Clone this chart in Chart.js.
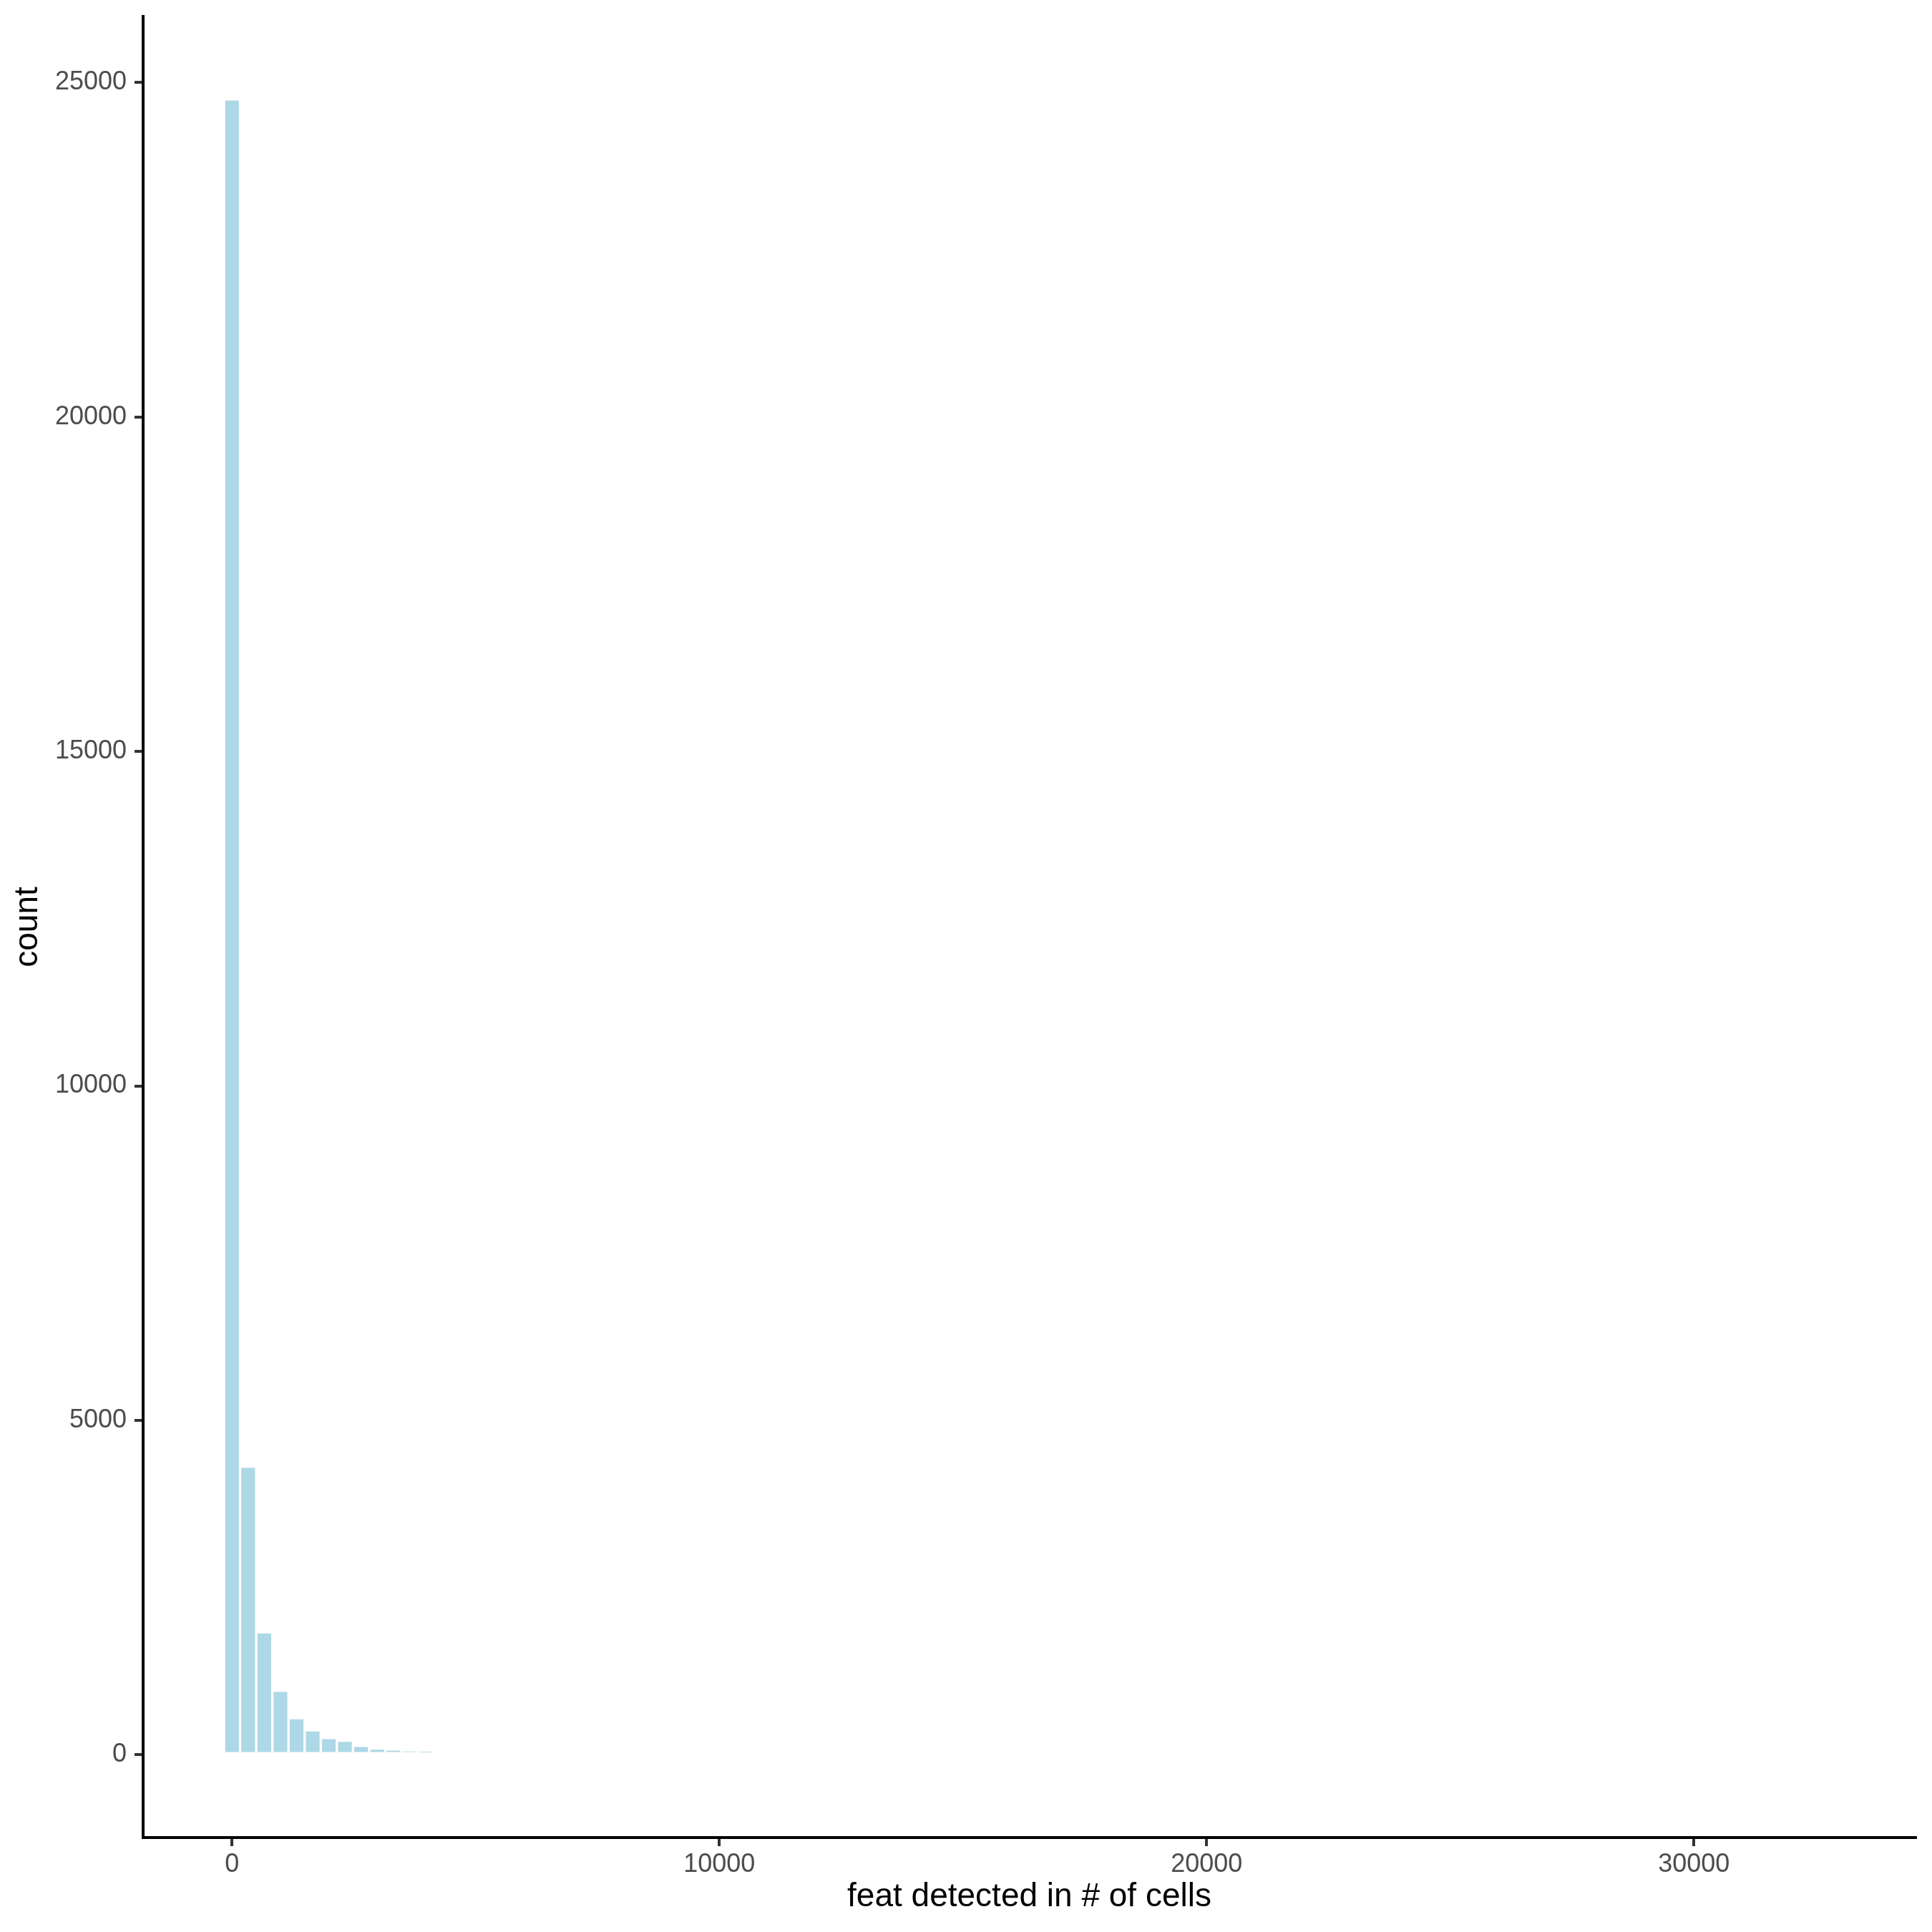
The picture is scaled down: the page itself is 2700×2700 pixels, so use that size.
<!DOCTYPE html>
<html>
<head>
<meta charset="utf-8">
<script src="https://cdn.jsdelivr.net/npm/chart.js@4"></script>
<style>
  html, body { margin: 0; padding: 0; background: #fff; }
  canvas { display: block; }
</style>
</head>
<body>
<canvas id="histChart" width="2700" height="2700"></canvas>
<script>
// histogram bins (centre of each bin) and counts
const binCenters = [0, 331, 662, 993, 1324, 1655, 1986, 2317, 2648, 2979, 3310, 3641, 3972];
const counts = [24750, 4308, 1831, 956, 547, 365, 250, 211, 133, 93, 79, 65, 58];

const xTicks = [0, 10000, 20000, 30000];
const yTicks = [0, 5000, 10000, 15000, 20000, 25000];

const xTitle = 'feat detected in # of cells';
const yTitle = 'count';

const FONT = "'Liberation Sans', Arial, Helvetica, sans-serif";

const points = binCenters.map((x, i) => ({ x: x, y: counts[i] }));

const ctx = document.getElementById('histChart').getContext('2d');
new Chart(ctx, {
    type: 'bar',
    data: {
        datasets: [{
            data: points,
            backgroundColor: '#ADD8E6',
            borderColor: '#ffffff',
            borderWidth: 2,
            borderSkipped: false,
            barPercentage: 1,
            categoryPercentage: 1
        }]
    },
    options: {
        responsive: false,
        animation: false,
        devicePixelRatio: 1,
        layout: { padding: { left: 0, top: 23, right: 23, bottom: 0 } },
        plugins: {
            legend: { display: false },
            tooltip: { enabled: false }
        },
        scales: {
            x: {
                type: 'linear',
                offset: false,
                min: -1825,
                max: 34548,
                afterBuildTicks: s => { s.ticks = xTicks.map(v => ({ value: v })); },
                afterFit: s => {
                    s.height = 132;
                    s.paddingLeft = 0;
                    s.paddingRight = 0;
                },
                grid: {
                    offset: false,
                    drawOnChartArea: false,
                    drawTicks: true,
                    tickLength: 12,
                    color: '#333333',
                    lineWidth: 4
                },
                border: { display: true, color: '#000000', width: 4 },
                ticks: {
                    color: '#4D4D4D',
                    padding: 4,
                    maxRotation: 0,
                    font: { family: FONT, size: 36 },
                    callback: v => String(v)
                },
                title: {
                    display: true,
                    text: xTitle,
                    color: '#000000',
                    padding: { top: 0, bottom: 21 },
                    font: { family: FONT, size: 46, lineHeight: 1.2 }
                }
            },
            y: {
                type: 'linear',
                min: -1238,
                max: 25989,
                afterBuildTicks: s => { s.ticks = yTicks.map(v => ({ value: v })); },
                afterFit: s => {
                    s.width = 200;
                    s.paddingTop = 0;
                    s.paddingBottom = 0;
                },
                grid: {
                    drawOnChartArea: false,
                    drawTicks: true,
                    tickLength: 12,
                    color: '#333333',
                    lineWidth: 4
                },
                border: { display: true, color: '#000000', width: 4 },
                ticks: {
                    color: '#4D4D4D',
                    padding: 11,
                    font: { family: FONT, size: 36 },
                    callback: v => String(v)
                },
                title: {
                    display: true,
                    text: yTitle,
                    color: '#000000',
                    padding: { top: 12, bottom: 0 },
                    font: { family: FONT, size: 46, lineHeight: 1.2 }
                }
            }
        }
    }
});
</script>
</body>
</html>
